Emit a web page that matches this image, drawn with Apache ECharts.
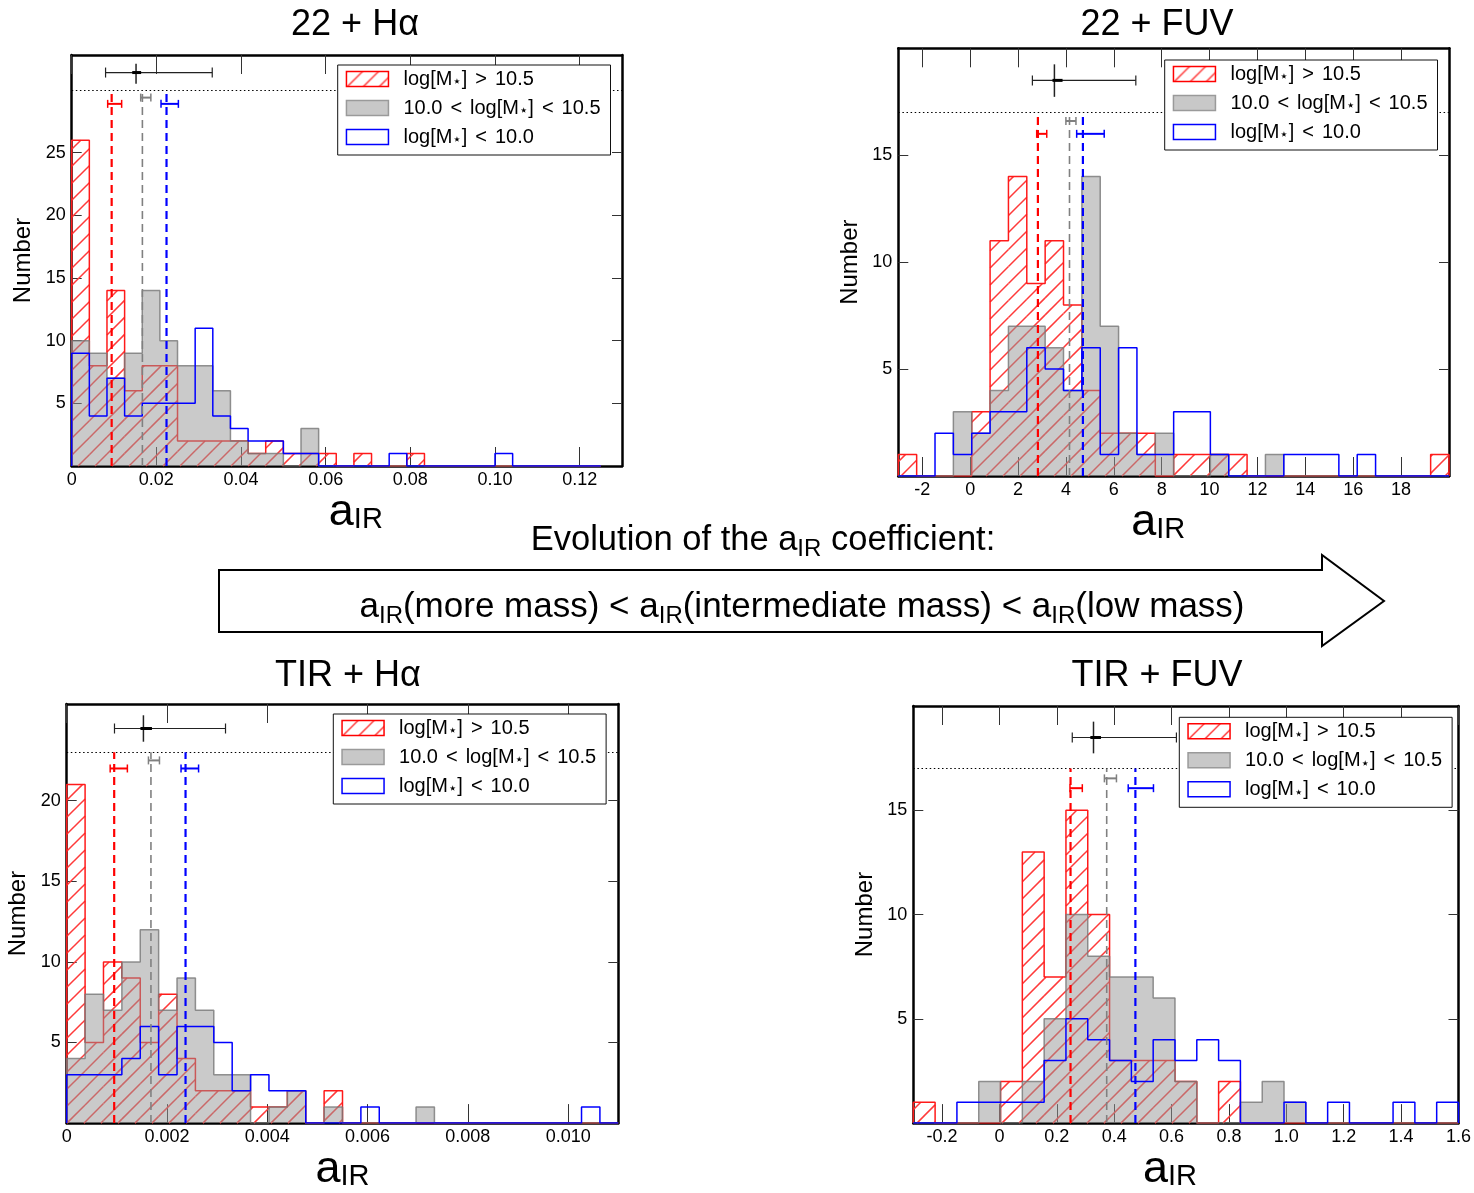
<!DOCTYPE html>
<html><head><meta charset="utf-8">
<script src="https://cdn.jsdelivr.net/npm/echarts@6/dist/echarts.min.js"></script>
<style>html,body{margin:0;padding:0;background:#fff}#c{width:1474px;height:1193px}</style>
</head><body><div id="c"></div>
<script>
// ---------------- DATA ----------------
const titles = ['22 + Hα', '22 + FUV', 'TIR + Hα', 'TIR + FUV'];
const legendNames = ['log[M*] > 10.5', '10.0 < log[M*] < 10.5', 'log[M*] < 10.0'];

// histogram bins: first edge and width per panel
const binStart = [0, -3, 0, -0.3];
const binWidth = [0.125 / 30, 23 / 30, 0.011 / 30, 1.9 / 25];

// 22 + Hα counts per bin
const hiMass22Ha  = [26,8,14,6,8,8,2,2,2,2,1,2,1,1,1,0,1,0,0,1,0,0,0,0,0,0,0,0,0,0];
const midMass22Ha = [10,9,7,9,14,10,8,8,6,2,1,1,0,3,0,0,0,0,0,0,0,0,0,0,0,0,0,0,0,0];
const lowMass22Ha = [9,4,7,4,5,5,5,11,4,3,2,2,1,1,0,0,0,0,1,0,0,0,0,0,1,0,0,0,0,0];
// 22 + FUV
const hiMass22FUV  = [1,0,0,0,3,11,14,9,11,8,4,2,2,2,0,1,1,1,1,0,0,0,0,0,0,0,0,0,0,1];
const midMass22FUV = [0,0,0,3,2,4,7,7,6,4,14,7,2,1,2,0,0,1,0,0,1,0,0,0,0,0,0,0,0,0];
const lowMass22FUV = [0,0,2,1,2,3,3,6,5,4,6,1,6,1,1,3,3,1,0,0,0,1,1,1,0,1,0,0,0,0];
// TIR + Hα
const hiMassTIRHa  = [21,5,10,9,5,8,4,2,2,2,1,1,2,0,2,0,0,0,0,0,0,0,0,0,0,0,0,0,0,0];
const midMassTIRHa = [4,8,7,10,12,7,9,7,3,3,0,1,2,0,1,0,0,0,0,1,0,0,0,0,0,0,0,0,0,0];
const lowMassTIRHa = [3,3,3,4,6,3,6,6,5,2,3,2,2,0,0,0,1,0,0,0,0,0,0,0,0,0,0,0,1,0];
// TIR + FUV
const hiMassTIRFUV  = [1,0,0,0,2,13,7,15,10,3,3,3,2,0,2,0,0,0,0,0,0,0,0,0,0];
const midMassTIRFUV = [0,0,0,2,0,2,5,10,8,7,7,6,2,0,0,1,2,1,0,0,0,0,0,0,0];
const lowMassTIRFUV = [0,0,1,1,1,1,3,5,4,3,2,4,3,4,3,0,0,1,0,1,0,0,1,0,1];

// medians (high, intermediate, low mass) and their uncertainty ranges
const median22Ha   = [0.00944, 0.0167, 0.0224];
const median22FUV  = [2.83, 4.15, 4.71];
const medianTIRHa  = [0.000947, 0.00168, 0.00237];
const medianTIRFUV = [0.248, 0.374, 0.474];
const medErr22Ha   = [[0.0085, 0.0118], [0.0163, 0.0187], [0.0211, 0.0252]];
const medErr22FUV  = [[2.78, 3.2], [4.0, 4.42], [4.45, 5.6]];
const medErrTIRHa  = [[0.000867, 0.00121], [0.00163, 0.00185], [0.00228, 0.00263]];
const medErrTIRFUV = [[0.246, 0.289], [0.366, 0.408], [0.449, 0.537]];
const errY22Ha   = [28.9, 29.4, 28.9];
const errY22FUV  = [16.0, 16.6, 16.0];
const errYTIRHa  = [22.0, 22.5, 22.0];
const errYTIRFUV = [16.06, 16.53, 16.06];
const refLevel = [30, 17, 23, 17];
// whole sample: [x, y, xlo, xhi, ylo, yhi, innerLo, innerHi]
const all22Ha   = [0.0152, 31.4, 0.0080, 0.0332, 30.5, 32.1, 0.0143, 0.0164];
const all22FUV  = [3.52, 18.5, 2.6, 6.92, 17.73, 19.25, 3.44, 3.86];
const allTIRHa  = [0.00153, 24.48, 0.000953, 0.003167, 23.66, 25.3, 0.00147, 0.0017];
const allTIRFUV = [0.328, 18.49, 0.254, 0.617, 17.73, 19.25, 0.317, 0.354];

// tick labels
const xTicks22Ha   = [0, 0.02, 0.04, 0.06, 0.08, 0.10, 0.12];
const xTicks22FUV  = [-2, 0, 2, 4, 6, 8, 10, 12, 14, 16, 18];
const xTicksTIRHa  = [0, 0.002, 0.004, 0.006, 0.008, 0.010];
const xTicksTIRFUV = [-0.2, 0, 0.2, 0.4, 0.6, 0.8, 1.0, 1.2, 1.4, 1.6];
const yTicks22Ha   = [5, 10, 15, 20, 25];
const yTicks22FUV  = [5, 10, 15];
const yTicksTIRHa  = [5, 10, 15, 20];
const yTicksTIRFUV = [5, 10, 15];

// ---------------- BUILD ----------------
const F = '"Liberation Sans", Arial, Helvetica, sans-serif';
const panels = [
  {hi: hiMass22Ha, mid: midMass22Ha, low: lowMass22Ha, med: median22Ha, err: medErr22Ha, errY: errY22Ha, all: all22Ha, xT: xTicks22Ha, yT: yTicks22Ha},
  {hi: hiMass22FUV, mid: midMass22FUV, low: lowMass22FUV, med: median22FUV, err: medErr22FUV, errY: errY22FUV, all: all22FUV, xT: xTicks22FUV, yT: yTicks22FUV},
  {hi: hiMassTIRHa, mid: midMassTIRHa, low: lowMassTIRHa, med: medianTIRHa, err: medErrTIRHa, errY: errYTIRHa, all: allTIRHa, xT: xTicksTIRHa, yT: yTicksTIRHa},
  {hi: hiMassTIRFUV, mid: midMassTIRFUV, low: lowMassTIRFUV, med: medianTIRFUV, err: medErrTIRFUV, errY: errYTIRFUV, all: allTIRFUV, xT: xTicksTIRFUV, yT: yTicksTIRFUV}
];
const layout = [
  {grid: {left: 71.7, top: 55, width: 550.3, height: 411}, x: [0, 0.13], y: [0, 32.8], dec: 2, leg: [337.7, 65], xGap: 14, xPad: [0, 0, 0, 18], yGap: 36, title: [355, 25]},
  {grid: {left: 898.3, top: 48.3, width: 550.7, height: 427.7}, x: [-3, 20], y: [0, 20], dec: 0, leg: [1164.7, 60], xGap: 16, xPad: [0, 31, 0, 0], yGap: 36, title: [1157, 25]},
  {grid: {left: 66.7, top: 704, width: 551.6, height: 425.5}, x: [0, 0.011], y: [0, 26], dec: 3, leg: [333.3, 714], xGap: 6, xPad: [0, 0, 0, 0], yGap: 36, title: [348, 676]},
  {grid: {left: 913.3, top: 706, width: 550, height: 427.3}, x: [-0.3, 1.6], y: [0, 20], dec: 1, leg: [1179.3, 717.3], xGap: 8, xPad: [0, 32, 0, 0], yGap: 36, title: [1157, 676]}
];

function makeHatch(s, color) {
  const c = document.createElement('canvas');
  c.width = s; c.height = s;
  const g = c.getContext('2d');
  g.strokeStyle = color; g.lineWidth = 1.4;
  g.beginPath();
  g.moveTo(0, s); g.lineTo(s, 0);
  g.moveTo(-s / 2, s / 2); g.lineTo(s / 2, -s / 2);
  g.moveTo(s / 2, s * 1.5); g.lineTo(s * 1.5, s / 2);
  g.stroke();
  return c;
}
const hatchLegend = {image: makeHatch(16, '#ff3030'), repeat: 'repeat'};
const HATCH_STEP = 17;
const HATCH_COLOR = '#ff3a3a';
const HATCH_WIDTH = 1.5;

function stepPoints(start, w, counts) {
  const pts = [[start, 0]];
  counts.forEach((c, i) => { pts.push([start + i * w, c]); pts.push([start + (i + 1) * w, c]); });
  pts.push([start + counts.length * w, 0]);
  return pts;
}
function binRows(start, w, counts) {
  return counts.map((c, k) => [start + k * w, start + (k + 1) * w, c]).filter(r => r[2] > 0);
}

const medColors = ['#ff0000', '#808080', '#0000ff'];
const grid = [], xAxis = [], yAxis = [], series = [], legend = [], graphic = [];

const legendRich = {
  t: {fontSize: 20, fontFamily: F, color: '#000', lineHeight: 22},
  p: {fontSize: 20, fontFamily: F, color: '#000', lineHeight: 22, padding: [0, 0, 0, 10]},
  r: {fontSize: 20, fontFamily: F, color: '#000', lineHeight: 22, padding: [0, 8, 0, 8]},
  s: {fontSize: 15, fontFamily: '"DejaVu Sans"', color: '#000', lineHeight: 13, verticalAlign: 'bottom'}
};
function legendFmt(name) {
  if (name === legendNames[0]) return '{p|log[M}{s|⋆}{t|]}{r|>}{t|10.5}';
  if (name === legendNames[1]) return '{p|10.0}{r|<}{t|log[M}{s|⋆}{t|]}{r|<}{t|10.5}';
  return '{p|log[M}{s|⋆}{t|]}{r|<}{t|10.0}';
}
const legendData = [
  {name: legendNames[0], icon: 'rect', itemStyle: {color: hatchLegend, borderColor: '#ff0000', borderWidth: 1.5}},
  {name: legendNames[1], icon: 'rect', itemStyle: {color: '#c8c8c8', borderColor: '#9a9a9a', borderWidth: 1.5}},
  {name: legendNames[2], icon: 'rect', itemStyle: {color: 'rgba(255,255,255,0)', borderColor: '#0000ff', borderWidth: 1.5}}
];

// diagonal "/" hatch lines inside one histogram bar, aligned to a page-wide grid
function hatchItem(params, api) {
  const a = api.coord([api.value(0), api.value(2)]);
  const b = api.coord([api.value(1), 0]);
  const x0 = a[0], x1 = b[0], y0 = a[1], y1 = b[1];
  const children = [];
  const cMin = Math.ceil((x0 + y0) / HATCH_STEP) * HATCH_STEP;
  for (let c = cMin; c <= x1 + y1; c += HATCH_STEP) {
    const xa = Math.max(x0, c - y1), xb = Math.min(x1, c - y0);
    if (xb > xa) children.push({type: 'line', shape: {x1: xa, y1: c - xa, x2: xb, y2: c - xb},
      style: {stroke: HATCH_COLOR, lineWidth: HATCH_WIDTH}});
  }
  return {type: 'group', children};
}

panels.forEach((p, i) => {
  const L = layout[i];
  grid.push(L.grid);
  const fmt = v => (Math.abs(v) < 1e-12 ? '0' : v.toFixed(L.dec));
  const axLine = {show: true, onZero: false, lineStyle: {color: '#000', width: 2.5}};
  xAxis.push({
    type: 'value', gridIndex: i, min: L.x[0], max: L.x[1], position: 'bottom',
    axisLine: axLine, splitLine: {show: false},
    axisTick: {inside: true, length: 19, customValues: p.xT, lineStyle: {color: '#333', width: 1}},
    axisLabel: {customValues: p.xT, formatter: fmt, fontSize: 18, fontFamily: F, color: '#000', margin: 5},
    name: '{a|a}{s|IR}', nameLocation: 'middle', nameGap: L.xGap,
    nameTextStyle: {padding: L.xPad, rich: {
      a: {fontSize: 45, fontFamily: F, color: '#000', lineHeight: 44},
      s: {fontSize: 29, fontFamily: F, color: '#000', lineHeight: 26, verticalAlign: 'bottom'}}}
  });
  xAxis.push({
    type: 'value', gridIndex: i, min: L.x[0], max: L.x[1], position: 'top',
    axisLine: axLine, splitLine: {show: false},
    axisTick: {inside: true, length: 19, customValues: p.xT, lineStyle: {color: '#333', width: 1}},
    axisLabel: {show: false}
  });
  yAxis.push({
    type: 'value', gridIndex: i, min: L.y[0], max: L.y[1], position: 'left',
    axisLine: axLine, splitLine: {show: false},
    axisTick: {inside: true, length: 10, customValues: p.yT, lineStyle: {color: '#333', width: 1}},
    axisLabel: {customValues: p.yT, fontSize: 18, fontFamily: F, color: '#000', margin: 6},
    name: 'Number', nameLocation: 'middle', nameGap: L.yGap,
    nameTextStyle: {fontSize: 24, fontFamily: F, color: '#000'}
  });
  yAxis.push({
    type: 'value', gridIndex: i, min: L.y[0], max: L.y[1], position: 'right',
    axisLine: axLine, splitLine: {show: false},
    axisTick: {inside: true, length: 10, customValues: p.yT, lineStyle: {color: '#333', width: 1}},
    axisLabel: {show: false}
  });
  const xi = 2 * i, yi = 2 * i;
  const base = {type: 'line', xAxisIndex: xi, yAxisIndex: yi, symbol: 'none', silent: true, animation: false};
  // hatched fill of the high-mass histogram
  series.push({
    type: 'custom', xAxisIndex: xi, yAxisIndex: yi, z: 2, silent: true, animation: false,
    data: binRows(binStart[i], binWidth[i], p.hi), encode: {x: [0, 1], y: 2},
    renderItem: hatchItem
  });
  series.push(Object.assign({}, base, {
    name: legendNames[0], data: stepPoints(binStart[i], binWidth[i], p.hi), z: 2,
    lineStyle: {color: '#ff1a1a', width: 1.5}
  }));
  series.push(Object.assign({}, base, {
    name: legendNames[1], data: stepPoints(binStart[i], binWidth[i], p.mid), z: 3,
    lineStyle: {color: '#777', width: 1.5, opacity: 0.8}, areaStyle: {color: 'rgb(150,150,150)', opacity: 0.5}
  }));
  series.push(Object.assign({}, base, {
    name: legendNames[2], data: stepPoints(binStart[i], binWidth[i], p.low), z: 4,
    lineStyle: {color: '#0000ff', width: 1.5},
    markLine: {silent: true, symbol: 'none', label: {show: false}, animation: false,
      lineStyle: {color: '#000', width: 1.2, type: [1.5, 2.6]}, data: [{yAxis: refLevel[i]}]}
  }));
  p.med.forEach((m, j) => {
    series.push(Object.assign({}, base, {
      data: [[m, 0], [m, refLevel[i]]], z: 5,
      lineStyle: {color: medColors[j], width: j === 1 ? 1.6 : 2.2, type: [8, 5]}
    }));
  });
  series.push({
    type: 'custom', xAxisIndex: xi, yAxisIndex: yi, z: 6, silent: true, animation: false,
    data: p.err.map((e, j) => [p.med[j], p.errY[j], e[0], e[1], j]),
    encode: {x: [2, 3], y: 1},
    renderItem: (params, api) => {
      const y = api.value(1);
      const a = api.coord([api.value(2), y]), b = api.coord([api.value(3), y]);
      const col = medColors[api.value(4)];
      const st = {stroke: col, lineWidth: 2};
      return {type: 'group', children: [
        {type: 'line', shape: {x1: a[0], y1: a[1], x2: b[0], y2: b[1]}, style: st},
        {type: 'line', shape: {x1: a[0], y1: a[1] - 4, x2: a[0], y2: a[1] + 4}, style: {stroke: col, lineWidth: 1.5}},
        {type: 'line', shape: {x1: b[0], y1: b[1] - 4, x2: b[0], y2: b[1] + 4}, style: {stroke: col, lineWidth: 1.5}}
      ]};
    }
  });
  series.push({
    type: 'custom', xAxisIndex: xi, yAxisIndex: yi, z: 6, silent: true, animation: false,
    data: [p.all], encode: {x: [2, 3], y: [4, 5]},
    renderItem: (params, api) => {
      const l = api.coord([api.value(2), api.value(1)]), r = api.coord([api.value(3), api.value(1)]);
      const t = api.coord([api.value(0), api.value(5)]), bt = api.coord([api.value(0), api.value(4)]);
      const il = api.coord([api.value(6), api.value(1)]), ir = api.coord([api.value(7), api.value(1)]);
      const col = '#222';
      return {type: 'group', children: [
        {type: 'line', shape: {x1: l[0], y1: l[1], x2: r[0], y2: r[1]}, style: {stroke: col, lineWidth: 1.2}},
        {type: 'line', shape: {x1: l[0], y1: l[1] - 5, x2: l[0], y2: l[1] + 5}, style: {stroke: col, lineWidth: 1.2}},
        {type: 'line', shape: {x1: r[0], y1: r[1] - 5, x2: r[0], y2: r[1] + 5}, style: {stroke: col, lineWidth: 1.2}},
        {type: 'line', shape: {x1: t[0], y1: t[1], x2: bt[0], y2: bt[1]}, style: {stroke: col, lineWidth: 1.5}},
        {type: 'line', shape: {x1: il[0], y1: il[1], x2: ir[0], y2: ir[1]}, style: {stroke: '#000', lineWidth: 3}}
      ]};
    }
  });
  legend.push({
    orient: 'vertical', left: L.leg[0], top: L.leg[1], padding: [4, 10, 7, 8],
    itemWidth: 42, itemHeight: 15, itemGap: 8, backgroundColor: '#fff',
    borderColor: '#111', borderWidth: 1, borderRadius: 0, selectedMode: false, z: 50,
    data: legendData, formatter: legendFmt, textStyle: {rich: legendRich}
  });
  graphic.push({type: 'text', x: L.title[0], y: L.title[1], z: 60,
    style: {text: titles[i], fontSize: 36, fontFamily: F, fill: '#000', align: 'center', verticalAlign: 'middle'}});
});

// arrow + explanatory text
graphic.push({type: 'polygon', z: 40,
  shape: {points: [[219, 570], [1322, 570], [1322, 555], [1384, 601], [1322, 646], [1322, 632], [219, 632]]},
  style: {fill: '#fff', stroke: '#000', lineWidth: 2}});
const subRich = (b, s) => ({
  b: {fontSize: b, fontFamily: F, fill: '#000', lineHeight: b + 8},
  s: {fontSize: s, fontFamily: F, fill: '#000', lineHeight: s, verticalAlign: 'bottom'}
});
graphic.push({type: 'text', x: 763, y: 540, z: 60,
  style: {text: '{b|Evolution of the a}{s|IR}{b| coefficient:}', rich: subRich(34.5, 24), align: 'center', verticalAlign: 'middle'}});
graphic.push({type: 'text', x: 802, y: 607, z: 60,
  style: {text: '{b|a}{s|IR}{b|(more mass) < a}{s|IR}{b|(intermediate mass) < a}{s|IR}{b|(low mass)}', rich: subRich(35, 24), align: 'center', verticalAlign: 'middle'}});

const chart = echarts.init(document.getElementById('c'), null, {renderer: 'canvas'});
chart.setOption({animation: false, backgroundColor: '#fff', grid, xAxis, yAxis, series, legend, graphic});
</script>
</body></html>
